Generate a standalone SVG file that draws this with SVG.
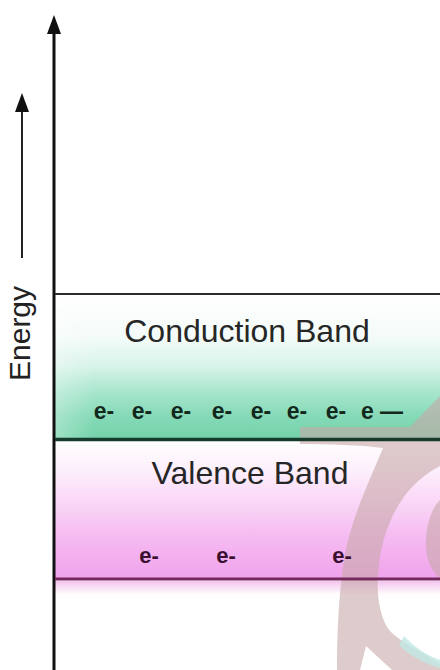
<svg xmlns="http://www.w3.org/2000/svg" width="440" height="670" viewBox="0 0 440 670">
<defs>
<linearGradient id="gCond" x1="0" y1="0" x2="0" y2="1">
<stop offset="0" stop-color="#ffffff"/>
<stop offset="0.3" stop-color="#f3fbf8"/>
<stop offset="0.5" stop-color="#d6f3e8"/>
<stop offset="0.68" stop-color="#a6e5cc"/>
<stop offset="0.85" stop-color="#84d9b6"/>
<stop offset="1" stop-color="#74d2aa"/>
</linearGradient>
<linearGradient id="gVal" x1="0" y1="0" x2="0" y2="1">
<stop offset="0" stop-color="#ffffff"/>
<stop offset="0.2" stop-color="#fdf1fc"/>
<stop offset="0.45" stop-color="#fad6f7"/>
<stop offset="0.7" stop-color="#f5baf1"/>
<stop offset="1" stop-color="#f0a2ec"/>
</linearGradient>
<linearGradient id="gBelow" x1="0" y1="0" x2="0" y2="1">
<stop offset="0" stop-color="#f4c4ee"/>
<stop offset="1" stop-color="#ffffff"/>
</linearGradient>
<linearGradient id="gLeft" x1="0" y1="0" x2="1" y2="0">
<stop offset="0" stop-color="#ffffff" stop-opacity="0.3"/>
<stop offset="1" stop-color="#ffffff" stop-opacity="0"/>
</linearGradient>
<style>
.lbl{font-family:"Liberation Sans","DejaVu Sans",sans-serif;font-size:32px;fill:#262626;text-anchor:middle}
.ec{font-family:"Liberation Sans","DejaVu Sans",sans-serif;font-size:23px;fill:#12281c;text-anchor:middle;font-weight:bold}
.ev{font-family:"Liberation Sans","DejaVu Sans",sans-serif;font-size:22px;fill:#3a1030;text-anchor:middle;font-weight:bold}
.wm{fill:#c8a8a8;opacity:0.6}
</style>
</defs>
<rect x="0" y="0" width="440" height="670" fill="#ffffff"/>

<g id="conduction-band">
<rect x="55" y="295" width="385" height="144" fill="url(#gCond)"/>
<rect x="55" y="295" width="40" height="144" fill="url(#gLeft)"/>
</g>

<g id="valence-band">
<rect x="55" y="440" width="385" height="140" fill="url(#gVal)"/>
<rect x="55" y="581" width="385" height="14" fill="url(#gBelow)"/>
</g>

<g id="watermark">
<path class="wm" d="M440,396 L410,427 L300,427 L300,444 C330,444 360,445 383,448 C370,480 350,520 344,560 C338,600 337,640 337,670 L360,670 L366,646 L392,670 L440,670 L440,664 C420,650 395,640 387,627 C378,610 376,590 379,565 C382,535 395,505 412,487 C422,477 432,470 440,466 Z"/>
<path class="wm" d="M440,500 C430,510 425,530 426,548 C427,562 432,572 440,578 Z"/>
<path d="M404,636 C415,648 428,656 440,660 L440,668 C425,664 410,656 399,645 Z" fill="#bfe8e4" opacity="0.8"/>
</g>

<g id="connectors">
<line x1="54" y1="30" x2="54" y2="670" stroke="#111" stroke-width="3"/>
<polygon points="54,15 47,34 61,34" fill="#111"/>
<line x1="22" y1="108" x2="22" y2="258" stroke="#222" stroke-width="2"/>
<polygon points="22,93 15,112 29,112" fill="#111"/>
<line x1="55" y1="294" x2="440" y2="294" stroke="#2c2c2c" stroke-width="2"/>
<line x1="55" y1="439.5" x2="440" y2="439.5" stroke="#163a2c" stroke-width="3.5"/>
<line x1="55" y1="579" x2="440" y2="579" stroke="#74285e" stroke-width="3"/>
</g>

<g id="energy-label">
<text transform="translate(30,381) rotate(-90)" style="font-family:'Liberation Sans','DejaVu Sans',sans-serif;font-size:30px;fill:#222">Energy</text>
</g>

<g id="conduction-text">
<text class="lbl" x="247" y="342">Conduction Band</text>
<text class="ec" x="104" y="419">e-</text>
<text class="ec" x="142" y="419">e-</text>
<text class="ec" x="181" y="419">e-</text>
<text class="ec" x="222" y="419">e-</text>
<text class="ec" x="261" y="419">e-</text>
<text class="ec" x="297" y="419">e-</text>
<text class="ec" x="336" y="419">e-</text>
<text class="ec" x="382" y="419">e —</text>
</g>

<g id="valence-text">
<text class="lbl" x="250" y="484">Valence Band</text>
<text class="ev" x="149" y="563">e-</text>
<text class="ev" x="226" y="563">e-</text>
<text class="ev" x="342" y="563">e-</text>
</g>
</svg>
